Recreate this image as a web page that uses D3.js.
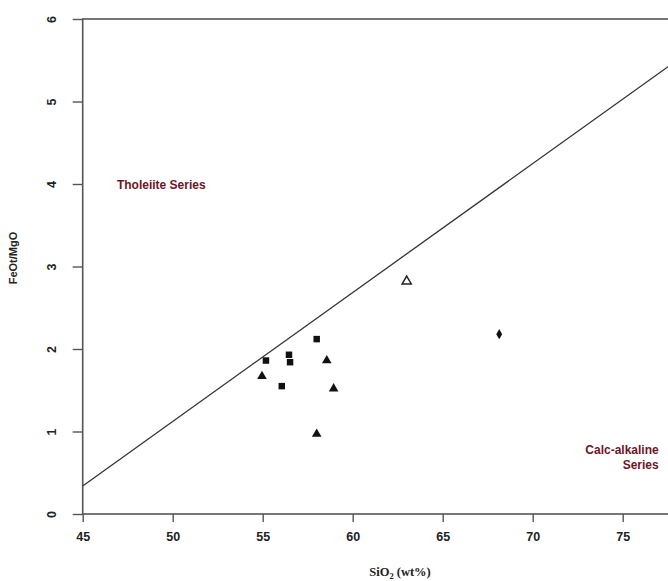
<!DOCTYPE html>
<html>
<head>
<meta charset="utf-8">
<script src="https://cdn.jsdelivr.net/npm/d3@7"></script>
<style>
  html, body { margin: 0; padding: 0; background: #fff; }
  svg { display: block; }
</style>
</head>
<body>
<svg id="chart" width="668" height="581"></svg>
<script>
// SiO2 vs FeOt/MgO discrimination diagram (Miyashiro boundary)
const xTicks = [45, 50, 55, 60, 65, 70, 75];
const yTicks = [0, 1, 2, 3, 4, 5, 6];

// boundary line between tholeiitic and calc-alkaline fields
const boundary = [[45, 0.34], [80, 5.81]];

// samples, grouped by symbol
const squares    = [[58.0, 2.12], [56.46, 1.93], [56.52, 1.84], [55.18, 1.86], [56.06, 1.55]];
const triangles  = [[58.56, 1.86], [54.96, 1.67], [58.94, 1.52], [58.0, 0.97]];
const openTri    = [[63.0, 2.82]];
const diamonds   = [[68.14, 2.18]];

const fieldLabels = [
  { text: ["Tholeiite Series"], x: 46.9, y: 3.94, anchor: "start" },
  { text: ["Calc-alkaline", "Series"], x: 77.0, y: 0.73, anchor: "end" }
];

const svg = d3.select("#chart");
const x = d3.scaleLinear().domain([45, 80]).range([82.7, 712.7]);
const y = d3.scaleLinear().domain([0, 6]).range([514, 19]);

const frameColor = "#555";
const labelFont = "'Liberation Sans', Arial, sans-serif";

// plot frame
svg.append("rect")
  .attr("x", x(45)).attr("y", y(6))
  .attr("width", x(80) - x(45)).attr("height", y(0) - y(6))
  .attr("fill", "none").attr("stroke", frameColor).attr("stroke-width", 1.6);

// x axis
const xAxis = svg.append("g")
  .attr("transform", `translate(0,${y(0)})`)
  .call(d3.axisBottom(x).tickValues(xTicks).tickSize(8).tickPadding(10).tickFormat(d3.format("d")));
xAxis.select(".domain").remove();
xAxis.selectAll("line").attr("stroke", frameColor).attr("stroke-width", 1.4);
xAxis.selectAll("text")
  .attr("font-family", labelFont).attr("font-size", 12.5).attr("font-weight", "bold").attr("fill", "#222");

// y axis, labels turned vertical
const yAxis = svg.append("g")
  .attr("transform", `translate(${x(45)},0)`)
  .call(d3.axisLeft(y).tickValues(yTicks).tickSize(10).tickFormat(d3.format("d")));
yAxis.select(".domain").remove();
yAxis.selectAll("line").attr("stroke", frameColor).attr("stroke-width", 1.4);
yAxis.selectAll("text")
  .attr("font-family", labelFont).attr("font-size", 12.5).attr("font-weight", "bold").attr("fill", "#222")
  .attr("x", 0).attr("dy", 0)
  .attr("text-anchor", "middle")
  .attr("transform", "translate(-31,0) rotate(-90)")
  .attr("dominant-baseline", "central");

// axis titles
const xTitle = svg.append("text")
  .attr("x", 400).attr("y", 576)
  .attr("text-anchor", "middle")
  .attr("font-family", "'Liberation Serif', 'Times New Roman', serif")
  .attr("font-size", 12.5).attr("font-weight", "bold").attr("fill", "#222");
xTitle.append("tspan").text("SiO");
xTitle.append("tspan").attr("font-size", 8.5).attr("dy", 3).text("2");
xTitle.append("tspan").attr("dy", -3).text(" (wt%)");

svg.append("text")
  .attr("transform", `translate(17,258) rotate(-90)`)
  .attr("text-anchor", "middle")
  .attr("font-family", labelFont)
  .attr("font-size", 11).attr("font-weight", "bold").attr("fill", "#222")
  .text("FeOt/MgO");

// clip marks to the plot area
svg.append("clipPath").attr("id", "plotArea")
  .append("rect").attr("x", x(45)).attr("y", y(6))
  .attr("width", x(80) - x(45)).attr("height", y(0) - y(6));

const plot = svg.append("g").attr("clip-path", "url(#plotArea)");

plot.append("path")
  .datum(boundary)
  .attr("d", d3.line().x(d => x(d[0])).y(d => y(d[1])))
  .attr("fill", "none").attr("stroke", "#333").attr("stroke-width", 1.3);

// sample symbols
const sq = d3.symbol().type(d3.symbolSquare).size(42);
const tri = d3.symbol().type(d3.symbolTriangle).size(40);
const dia = d3.symbol().type(d3.symbolDiamond).size(30);

plot.selectAll(".sq").data(squares).join("path")
  .attr("transform", d => `translate(${x(d[0])},${y(d[1])})`)
  .attr("d", sq).attr("fill", "#111");

plot.selectAll(".tri").data(triangles).join("path")
  .attr("transform", d => `translate(${x(d[0])},${y(d[1])})`)
  .attr("d", tri).attr("fill", "#111");

plot.selectAll(".otri").data(openTri).join("path")
  .attr("transform", d => `translate(${x(d[0])},${y(d[1])})`)
  .attr("d", d3.symbol().type(d3.symbolTriangle).size(36))
  .attr("fill", "none").attr("stroke", "#222").attr("stroke-width", 1.5);

plot.selectAll(".dia").data(diamonds).join("path")
  .attr("transform", d => `translate(${x(d[0])},${y(d[1])})`)
  .attr("d", dia).attr("fill", "#111");

// field names
fieldLabels.forEach(f => {
  const t = svg.append("text")
    .attr("x", x(f.x)).attr("y", y(f.y))
    .attr("text-anchor", f.anchor)
    .attr("font-family", labelFont)
    .attr("font-size", 12).attr("font-weight", "bold").attr("fill", "#6e1526");
  f.text.forEach((line, i) => {
    t.append("tspan").attr("x", x(f.x)).attr("dy", i === 0 ? 0 : 15).text(line);
  });
});
</script>
</body>
</html>
